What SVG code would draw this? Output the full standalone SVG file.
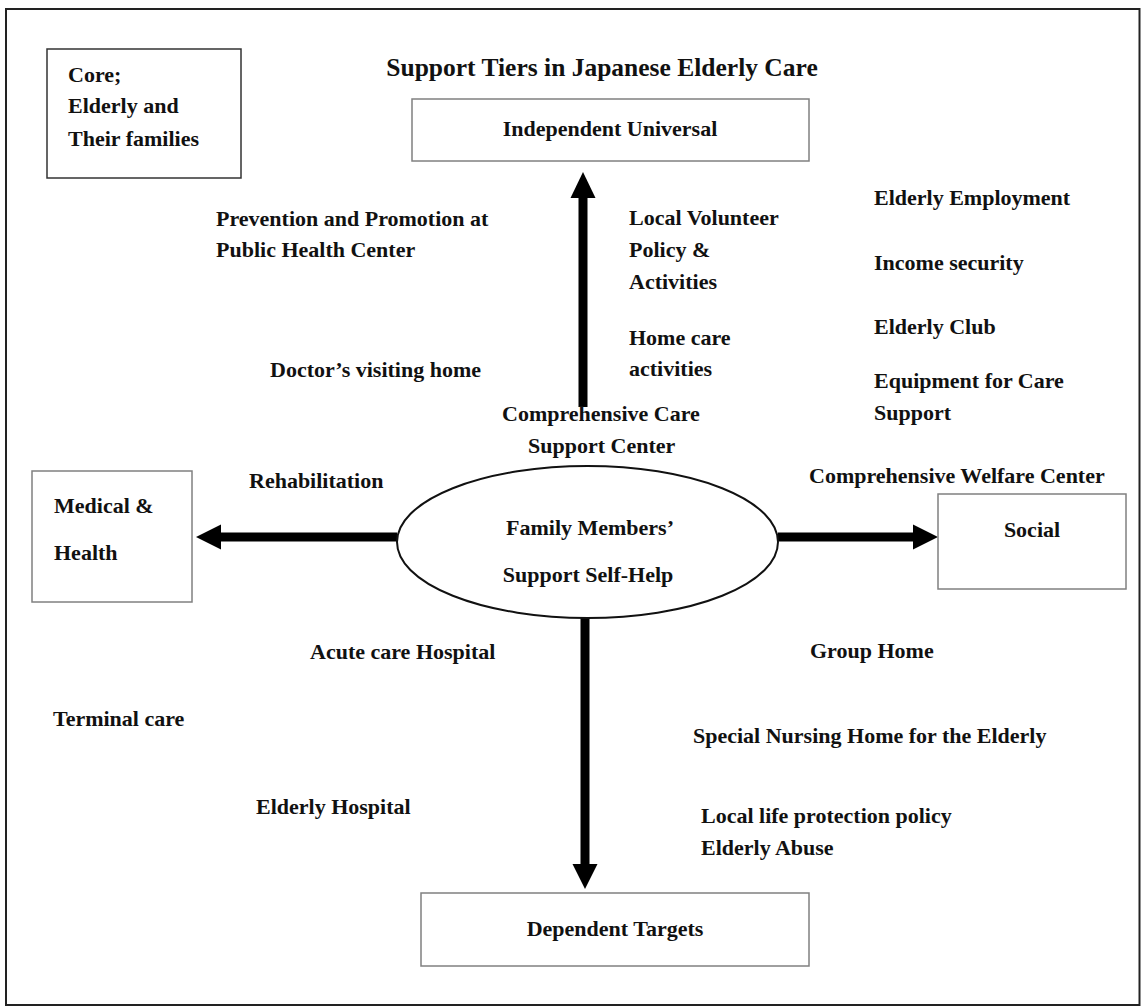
<svg xmlns="http://www.w3.org/2000/svg" width="1141" height="1006" viewBox="0 0 1141 1006">
<style>
text{font-family:"Liberation Serif","Times New Roman",serif;font-weight:bold;font-size:22px;fill:#111}
.c{text-anchor:middle}
.title{font-size:25.5px}
.box{fill:#fff;stroke:#808080;stroke-width:1.5}
.core{fill:#fff;stroke:#333;stroke-width:1.5}
.shaft{stroke:#000;stroke-width:9;fill:none}
.head{fill:#000}
</style>
<rect x="6" y="9" width="1133.5" height="996" fill="#fff" stroke="#222" stroke-width="2"/>
<text class="title c" x="602" y="76">Support Tiers in Japanese Elderly Care</text>
<g id="connectors">
<line class="shaft" x1="583" y1="407" x2="583" y2="195"/>
<polygon class="head" points="583,172 570.5,198 595.5,198"/>
<line class="shaft" x1="397" y1="537" x2="218" y2="537"/>
<polygon class="head" points="196,537 221,524.5 221,549.5"/>
<line class="shaft" x1="778" y1="537" x2="916" y2="537"/>
<polygon class="head" points="938,537 913,524.5 913,549.5"/>
<line class="shaft" x1="585" y1="617" x2="585" y2="866"/>
<polygon class="head" points="585,889 572.5,864 597.5,864"/>
</g>
<g id="core">
<rect class="core" x="47" y="49" width="194" height="129"/>
<text x="68" y="82">Core;</text>
<text x="68" y="113">Elderly and</text>
<text x="68" y="146">Their families</text>
</g>
<g id="independent">
<rect class="box" x="412" y="99" width="397" height="62"/>
<text class="c" x="610" y="136">Independent Universal</text>
</g>
<g id="medical">
<rect class="box" x="32" y="471" width="160" height="131"/>
<text x="54" y="513">Medical &amp;</text>
<text x="54" y="560">Health</text>
</g>
<g id="social">
<rect class="box" x="938" y="494" width="188" height="95"/>
<text class="c" x="1032" y="537">Social</text>
</g>
<g id="dependent">
<rect class="box" x="421" y="893" width="388" height="73"/>
<text class="c" x="615" y="936">Dependent Targets</text>
</g>
<g id="center">
<ellipse cx="587.5" cy="542" rx="190.5" ry="76" fill="#fff" stroke="#111" stroke-width="2"/>
<text class="c" x="590" y="535">Family Members’</text>
<text class="c" x="588" y="582">Support Self-Help</text>
</g>
<g id="labels">
<text x="216" y="226">Prevention and Promotion at</text>
<text x="216" y="257">Public Health Center</text>
<text x="270" y="377">Doctor’s visiting home</text>
<text x="629" y="225">Local Volunteer</text>
<text x="629" y="257">Policy &amp;</text>
<text x="629" y="289">Activities</text>
<text x="629" y="345">Home care</text>
<text x="629" y="376">activities</text>
<text x="874" y="205">Elderly Employment</text>
<text x="874" y="270">Income security</text>
<text x="874" y="334">Elderly Club</text>
<text x="874" y="388">Equipment for Care</text>
<text x="874" y="420">Support</text>
<text x="502" y="421">Comprehensive Care</text>
<text x="528" y="453">Support Center</text>
<text x="809" y="483">Comprehensive Welfare Center</text>
<text x="249" y="488">Rehabilitation</text>
<text x="310" y="659">Acute care Hospital</text>
<text x="810" y="658">Group Home</text>
<text x="53" y="726">Terminal care</text>
<text x="693" y="743">Special Nursing Home for the Elderly</text>
<text x="256" y="814">Elderly Hospital</text>
<text x="701" y="823">Local life protection policy</text>
<text x="701" y="855">Elderly Abuse</text>
</g>
</svg>
